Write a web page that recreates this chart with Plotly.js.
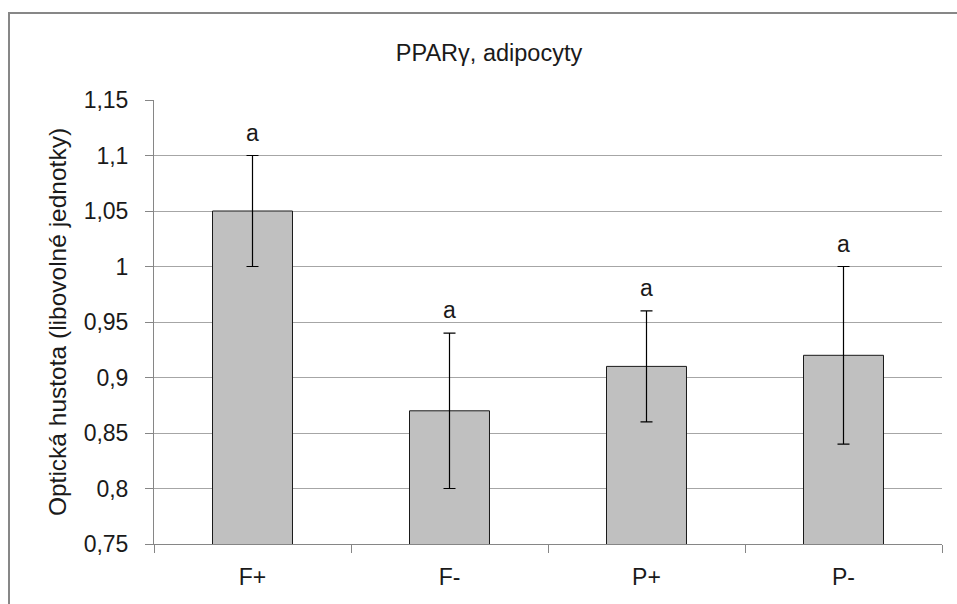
<!DOCTYPE html>
<html>
<head>
<meta charset="utf-8">
<script src="https://cdn.plot.ly/plotly-3.0.1.min.js"></script>
<style>
body{margin:0;background:#fff;}
#wrap{position:relative;width:957px;height:604px;overflow:hidden;}
#chart{width:957px;height:604px;}
#frame{position:absolute;left:8px;top:12px;width:980px;height:620px;border:2px solid #878787;pointer-events:none;}
</style>
</head>
<body>
<div id="wrap"><div id="chart"></div><div id="frame"></div></div>
<script>
const categories = ["F+", "F-", "P+", "P-"];
const values = [1.05, 0.87, 0.91, 0.92];
const errors = [0.05, 0.07, 0.05, 0.08];
const letters = ["a", "a", "a", "a"];
const yTickVals = [0.75, 0.8, 0.85, 0.9, 0.95, 1, 1.05, 1.1, 1.15];
const yTickText = ["0,75", "0,8", "0,85", "0,9", "0,95", "1", "1,05", "1,1", "1,15"];

const FONT = "Liberation Sans, Arial, sans-serif";
const TXT = "#1a1a1a";

const trace = {
  type: "bar",
  x: categories,
  y: values,
  base: 0,
  marker: {color: "#c0c0c0", line: {color: "#1a1a1a", width: 1}},
  error_y: {type: "data", array: errors, visible: true, color: "#000", thickness: 1.2, width: 6},
  hoverinfo: "none"
};

const annotations = categories.map((c, i) => ({
  x: c, y: values[i] + errors[i], xref: "x", yref: "y",
  text: letters[i], showarrow: false, yanchor: "bottom", yshift: 8,
  font: {family: FONT, size: 23, color: TXT}
}));

const layout = {
  width: 957, height: 604,
  margin: {l: 154, r: 15, t: 100, b: 60},
  paper_bgcolor: "#fff", plot_bgcolor: "#fff",
  showlegend: false,
  bargap: 0.594,
  title: {text: "PPARγ, adipocyty", font: {family: FONT, size: 23.5, color: TXT},
          x: 489/957, xanchor: "center", y: 1 - 53/604, yanchor: "middle", yref: "container"},
  xaxis: {
    type: "category",
    showline: true, linecolor: "#868686", linewidth: 1,
    ticks: "outside", tickson: "boundaries", ticklen: 8, tickcolor: "#868686",
    ticklabelstandoff: 12,
    showgrid: false, zeroline: false,
    tickfont: {family: FONT, size: 23, color: TXT}
  },
  yaxis: {
    range: [0.75, 1.15],
    tickvals: yTickVals, ticktext: yTickText,
    showline: true, linecolor: "#868686", linewidth: 1,
    ticks: "outside", ticklen: 8, tickcolor: "#868686",
    ticklabelstandoff: 12,
    showgrid: true, gridcolor: "#a6a6a6", gridwidth: 1, zeroline: false,
    tickfont: {family: FONT, size: 23, color: TXT},
    title: {text: "Optická hustota (libovolné jednotky)", font: {family: FONT, size: 24.5, color: TXT}, standoff: 10}
  },
  annotations: annotations
};

Plotly.newPlot("chart", [trace], layout, {displayModeBar: false, staticPlot: true});
</script>
</body>
</html>
